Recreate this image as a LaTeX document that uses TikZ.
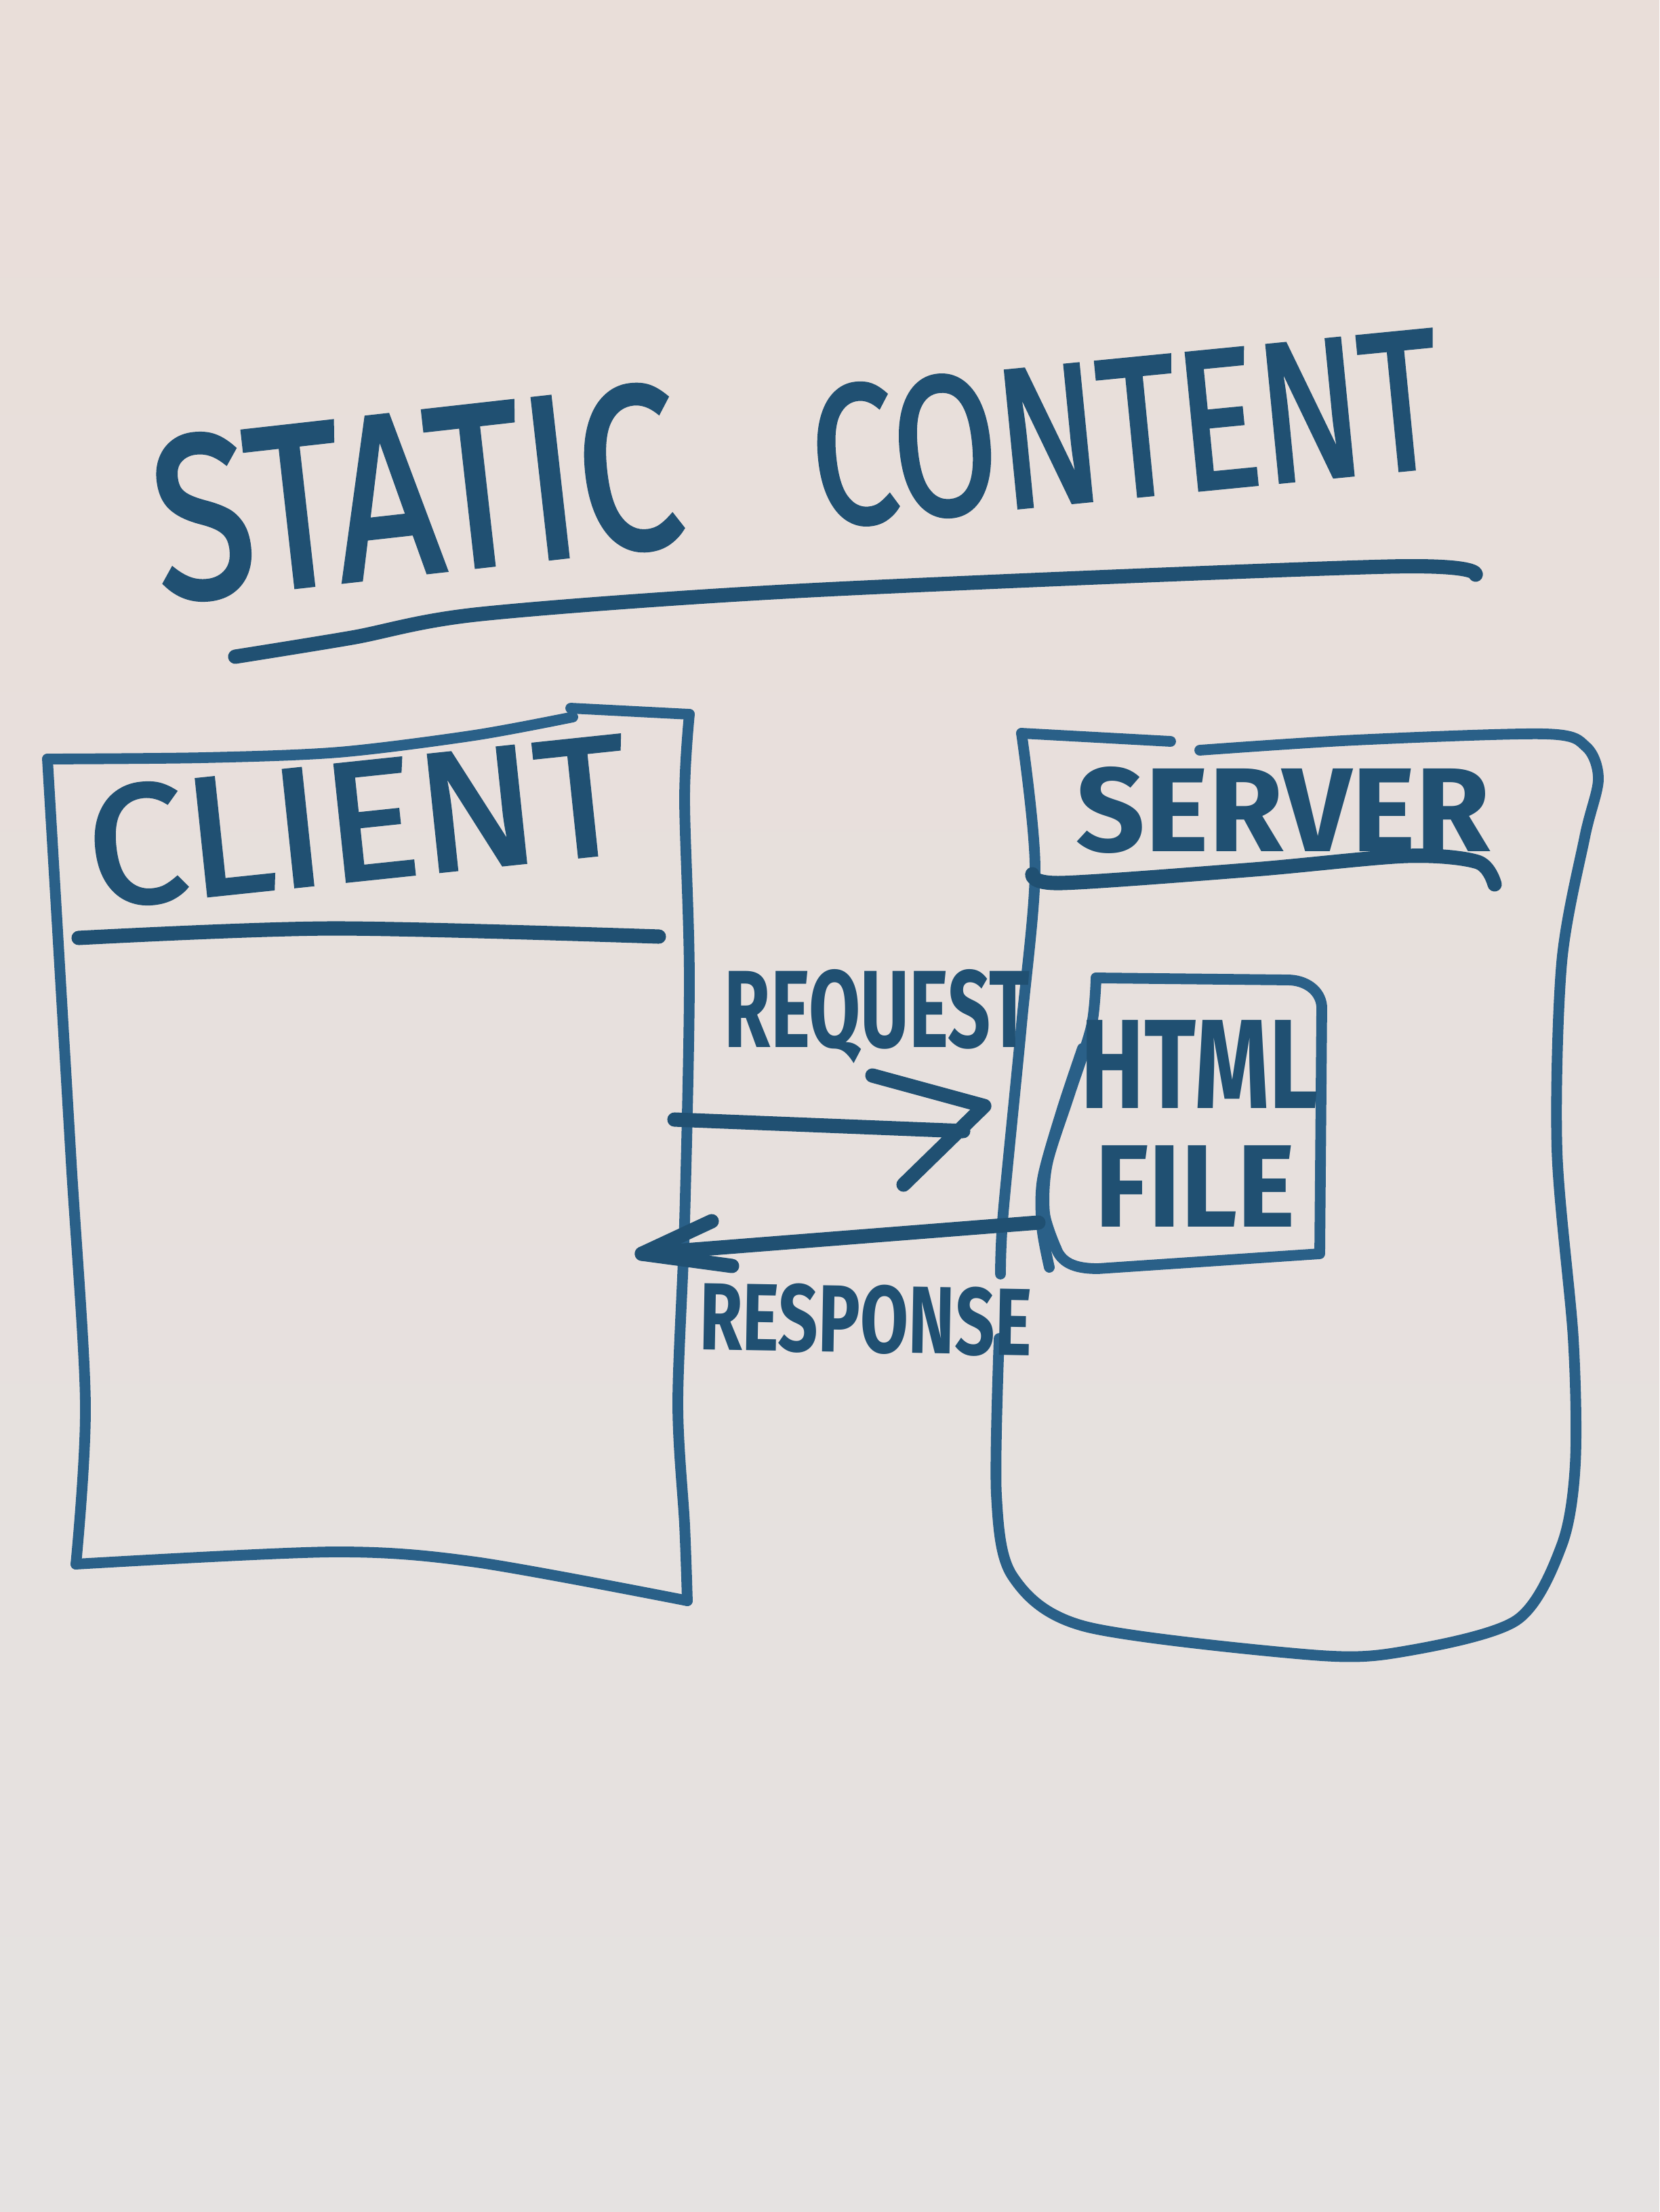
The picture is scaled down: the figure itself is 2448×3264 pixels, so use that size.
\documentclass[tikz,border=0pt]{standalone}
\usepackage{fontspec}
\setmainfont{Fira Sans}
\newfontfamily\markerFont[FakeBold=2]{Fira Sans}
\usepackage{graphicx}
\usetikzlibrary{positioning}
\definecolor{ink}{RGB}{32,80,114}
\definecolor{boxInk}{RGB}{42,96,136}
\definecolor{boardTop}{RGB}{233,222,217}
\definecolor{boardMid}{RGB}{236,225,220}
\definecolor{boardBot}{RGB}{229,226,225}
\tikzset{
    inkLine/.style={draw=ink, line width=6pt, line cap=round, line join=round},
    inkBox/.style={draw=boxInk, line width=4.5pt, line cap=round, line join=round},
    inkText/.style={text=ink, inner sep=0pt, outer sep=0pt},
}
\newcommand{\inkWord}[3]{\resizebox{#1}{#2}{#3}}

\begin{document}
\begin{tikzpicture}[x=0.01cm, y=-0.01cm]

        % whiteboard
        \fill[top color=boardTop, middle color=boardMid, bottom color=boardBot] (0,0) rectangle (2448,3264);
        \useasboundingbox (0,0) rectangle (2448,3264);

        % title
        \node[inkText, rotate=6.4] (static) at (614,727) {\inkWord{7.8cm}{2.4cm}{\markerFont STATIC}};
        \node[inkText, rotate=5.6] (content) at (1660,632) {\inkWord{9.3cm}{2.05cm}{\markerFont CONTENT}};
        \draw[inkLine] plot[smooth] coordinates {(347,969) (519,941) (710,906) (1195,871) (2049,836) (2177,848)};

        % client
        \draw[inkBox] plot[smooth] coordinates {(70,1120) (300,1118) (500,1110) (700,1085) (845,1058)};
        \draw[inkBox] (842,1045) -- (1017,1054);
        \draw[inkBox] plot[smooth] coordinates {(1017,1054) (1010,1179) (1017,1446) (1010,1804) (1000,2071) (1010,2250) (1014,2362)};
        \draw[inkBox] plot[smooth] coordinates {(1014,2362) (702,2305) (491,2290) (112,2308)};
        \draw[inkBox] plot[smooth] coordinates {(112,2308) (126,2071) (105,1714) (84,1357) (70,1120)};
        \node[inkText, rotate=6] (client) at (527,1212) {\inkWord{8cm}{1.75cm}{\markerFont CLIENT}};
        \draw[inkLine] plot[smooth] coordinates {(116,1384) (491,1370) (972,1382)};

        % server
        \draw[inkBox] (1507,1082) -- (1727,1094);
        \draw[inkBox] plot[smooth] coordinates {(1770,1107) (2000,1092) (2280,1083) (2340,1102) (2358,1150) (2338,1235) (2304,1420) (2297,1697) (2321,1975) (2324,2160) (2304,2280) (2237,2391) (2070,2437) (1936,2442) (1601,2400) (1494,2326) (1470,2206) (1474,1975)};
        \draw[inkBox] plot[smooth] coordinates {(1476,1880) (1480,1790) (1507,1512) (1527,1281) (1507,1082)};
        \node[inkText] (server) at (1893,1195) {\inkWord{6.1cm}{1.25cm}{\bfseries SERVER}};
        \draw[inkLine] plot[smooth] coordinates {(1523,1290) (1565,1303) (1850,1283) (2075,1263) (2180,1272) (2205,1305)};

        % html file
        \draw[inkBox] (1617,1443) -- (1900,1446) to[out=0, in=95] (1950,1485) -- (1947,1850) -- (1620,1872) to[out=180, in=-70] (1558,1842);
        \draw[inkBox] plot[smooth] coordinates {(1558,1842) (1541,1790) (1545,1717) (1577,1617) (1610,1515) (1617,1443)};
        \draw[inkBox] plot[smooth] coordinates {(1597,1547) (1566,1640) (1538,1740) (1537,1810) (1548,1870)};
        \node[inkText] (html) at (1770,1570) {\inkWord{3.5cm}{1.3cm}{\bfseries HTML}};
        \node[inkText, below=0.55cm of html, xshift=-0.07cm] (file) {\inkWord{2.95cm}{1.2cm}{\bfseries FILE}};

        % request
        \coordinate (reqStart) at (995,1652);
        \coordinate (reqEnd) at (1421,1669);
        \coordinate (reqTip) at (1452,1632);
        \draw[inkLine] (reqStart) -- (reqEnd);
        \draw[inkLine] (1287,1587) -- (reqTip) -- (1333,1748);
        \node[inkText] (request) at (1294,1500) {\inkWord{4.5cm}{1.15cm}{\bfseries REQUEST}};

        % response
        \coordinate (resStart) at (1532,1804);
        \coordinate (resTip) at (947,1850);
        \draw[inkLine] (resStart) -- (resTip);
        \draw[inkLine] (1050,1802) -- (resTip) -- (1080,1868);
        \node[inkText, rotate=-1] (response) at (1277,1947) {\inkWord{4.9cm}{1.0cm}{\bfseries RESPONSE}};

    \end{tikzpicture}
\end{document}
